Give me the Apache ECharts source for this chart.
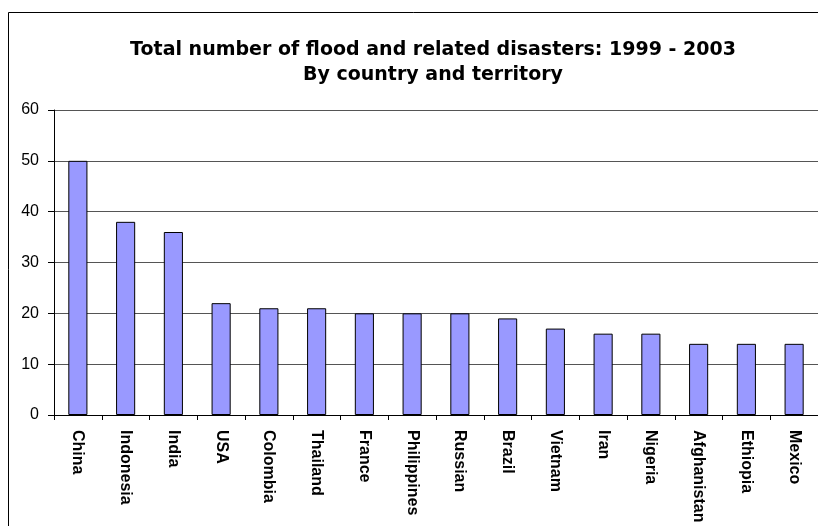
<!DOCTYPE html>
<html>
<head>
<meta charset="utf-8">
<script src="https://cdn.jsdelivr.net/npm/echarts@6/dist/echarts.min.js"></script>
<style>
  html, body { margin: 0; padding: 0; background: #fff; }
  #chart { width: 818px; height: 526px; }
</style>
</head>
<body>
<div id="chart"></div>
<script>
  var countries = ['China', 'Indonesia', 'India', 'USA', 'Colombia', 'Thailand', 'France', 'Philippines',
    'Russian', 'Brazil', 'Vietnam', 'Iran', 'Nigeria', 'Afghanistan', 'Ethiopia', 'Mexico'];
  var disasters = [50, 38, 36, 22, 21, 21, 20, 20, 20, 19, 17, 16, 16, 14, 14, 14];
  var titleLines = ['Total number of flood and related disasters: 1999 - 2003', 'By country and territory'];

  var myChart = echarts.init(document.getElementById('chart'));
  var option = {
    backgroundColor: '#fff',
    animation: false,
    title: {
      text: titleLines.join('\n'),
      left: 428,
      top: 33,
      textAlign: 'center',
      textStyle: {
        fontFamily: 'DejaVu Sans, sans-serif',
        fontWeight: 'bold',
        fontSize: 19,
        lineHeight: 25,
        color: '#000'
      }
    },
    graphic: [{
      type: 'rect',
      shape: { x: 8.5, y: 12.5, width: 900, height: 600 },
      style: { fill: 'none', stroke: '#000', lineWidth: 1 },
      z: -1
    }],
    grid: {
      left: 54,
      top: 110,
      right: -5,
      height: 305
    },
    xAxis: {
      type: 'category',
      data: countries,
      axisLine: { lineStyle: { color: '#000', width: 1 } },
      axisTick: { show: true, length: 5, inside: false, lineStyle: { color: '#000' } },
      axisLabel: {
        rotate: -90,
        interval: 0,
        margin: 15,
        color: '#000',
        fontFamily: 'Liberation Sans, Arial, sans-serif',
        fontWeight: 'bold',
        fontSize: 16
      }
    },
    yAxis: {
      type: 'value',
      min: 0,
      max: 60,
      interval: 10,
      axisLine: { show: true, lineStyle: { color: '#000', width: 1 } },
      axisTick: { show: true, length: 6, lineStyle: { color: '#000' } },
      axisLabel: {
        color: '#000',
        margin: 15,
        fontFamily: 'Liberation Sans, Arial, sans-serif',
        fontSize: 16
      },
      splitLine: { show: true, lineStyle: { color: '#555', width: 1 } }
    },
    series: [{
      type: 'bar',
      data: disasters,
      barWidth: '40%',
      itemStyle: {
        color: '#9999ff',
        borderColor: '#000',
        borderWidth: 1
      }
    }]
  };
  myChart.setOption(option);
</script>
</body>
</html>
